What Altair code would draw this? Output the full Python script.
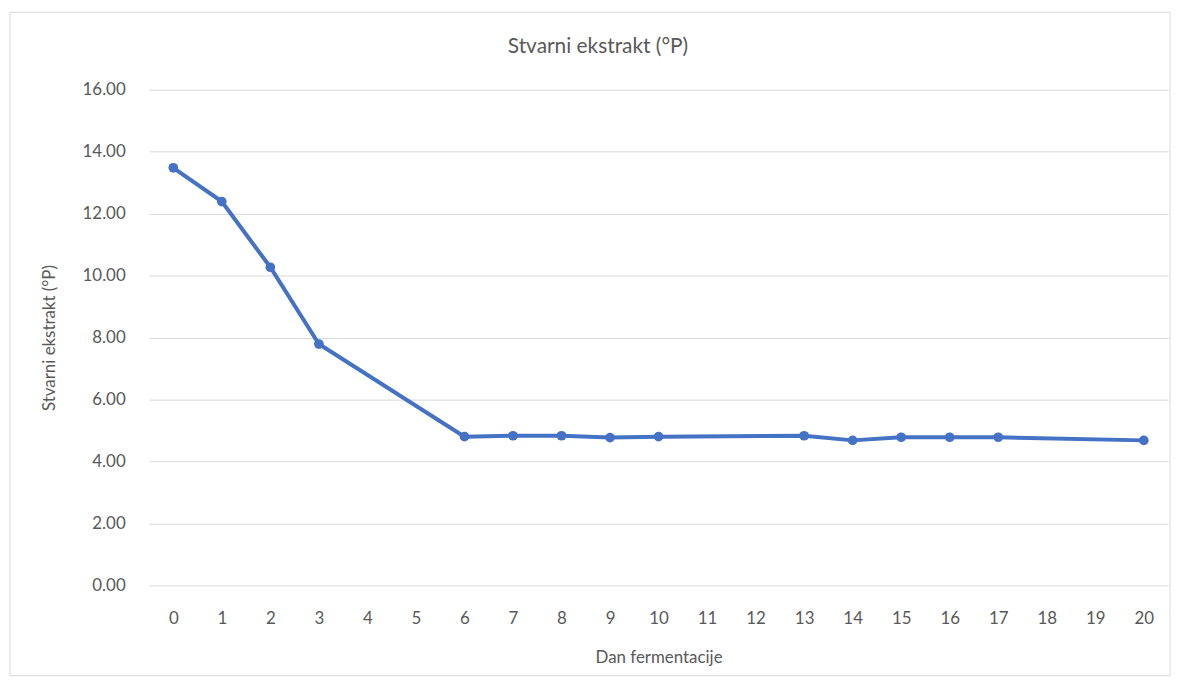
import altair as alt
import pandas as pd

days = [0, 1, 2, 3, 6, 7, 8, 9, 10, 13, 14, 15, 16, 17, 20]
extract = [13.48, 12.39, 10.27, 7.79, 4.80, 4.83, 4.83, 4.77, 4.80, 4.83, 4.68, 4.78, 4.78, 4.78, 4.68]
all_days = [str(d) for d in range(0, 21)]
y_ticks = [0, 2, 4, 6, 8, 10, 12, 14, 16]
chart_title = "Stvarni ekstrakt (°P)"

df = pd.DataFrame({"day": [str(d) for d in days], "val": extract})

FONT = "Lato"
GREY = "#595959"
BLUE = "#4472C4"

x = alt.X("day:O", scale=alt.Scale(domain=all_days, type="point", padding=0.5),
          sort=all_days,
          axis=alt.Axis(title="Dan fermentacije", labelAngle=0, ticks=False, domain=False,
                        grid=False, labelPadding=25, titlePadding=24,
                        labelFontSize=17, titleFontSize=17, labelColor=GREY, titleColor=GREY,
                        labelFont=FONT, titleFont=FONT, titleFontWeight="normal"))
y = alt.Y("val:Q", scale=alt.Scale(domain=[0, 16], nice=False),
          axis=alt.Axis(title="Stvarni ekstrakt (°P)", values=y_ticks, format=".2f",
                        ticks=False, domain=False, gridColor="#d9d9d9", gridWidth=1,
                        labelPadding=24, titlePadding=24,
                        labelFontSize=17, titleFontSize=17, labelColor=GREY, titleColor=GREY,
                        labelFont=FONT, titleFont=FONT, titleFontWeight="normal"))

line = alt.Chart(df).mark_line(color=BLUE, strokeWidth=4).encode(x=x, y=y)
pts = alt.Chart(df).mark_point(color=BLUE, filled=True, opacity=1, size=95).encode(x=x, y=y)

border = alt.Chart(pd.DataFrame({"a": [0]})).mark_rect(
    fill=None, stroke="#d9d9d9", strokeWidth=1
).encode(x=alt.value(-140), x2=alt.value(1028), y=alt.value(-78), y2=alt.value(590))

title = alt.Chart(pd.DataFrame({"t": [chart_title]})).mark_text(
    font=FONT, fontSize=21, color=GREY, align="center", baseline="middle"
).encode(text="t:N", x=alt.value(452), y=alt.value(-43))

chart = alt.layer(border, line, pts, title).properties(
    width=1026, height=499,
    autosize=alt.AutoSizeParams(type="none"),
    padding={"left": 142, "top": 80, "right": 11, "bottom": 92},
).configure_view(stroke=None)

chart.save("out.html", embed_options={"renderer": "svg", "actions": False})
